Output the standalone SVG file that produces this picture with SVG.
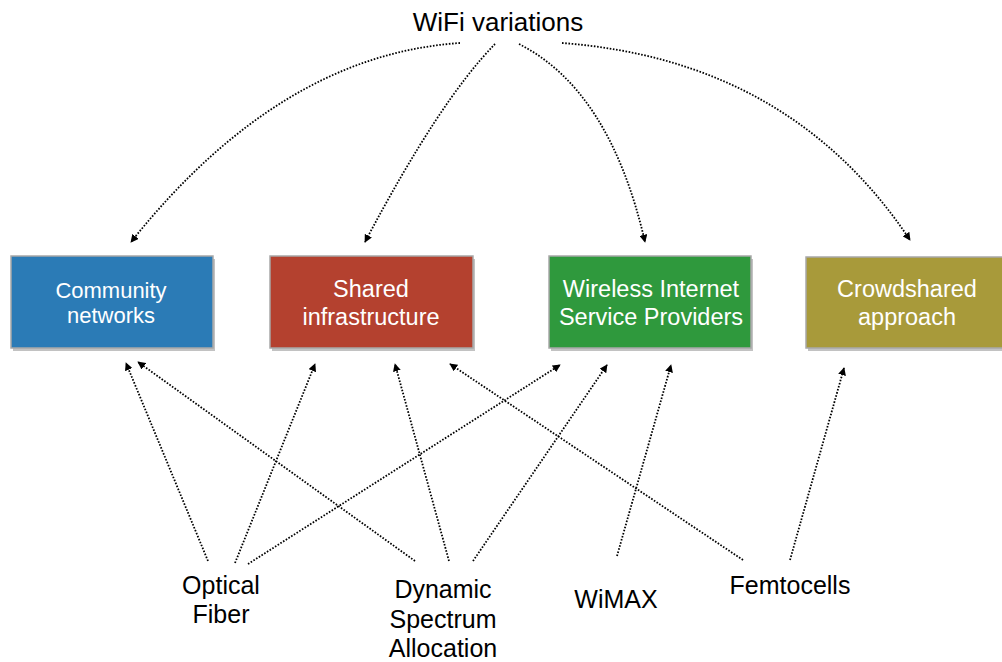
<svg xmlns="http://www.w3.org/2000/svg" width="1002" height="662" viewBox="0 0 1002 662">
<style>
.box{stroke:#a8a8a8;stroke-width:1.5}
.shadow{fill:#8f8f8f;opacity:0.55}
.bt{font-family:"Liberation Sans",Arial,sans-serif;fill:#ffffff;text-anchor:middle}
.lt{font-family:"Liberation Sans",Arial,sans-serif;fill:#000000;text-anchor:middle;font-size:25px}
.c{fill:none;stroke:#000;stroke-width:1.8;stroke-dasharray:1.6 1.6}
</style>
<defs>
<marker id="ah" viewBox="0 0 10 10" refX="9" refY="5" markerWidth="8" markerHeight="8" markerUnits="userSpaceOnUse" orient="auto">
<path d="M0,0 L10,5 L0,10 z" fill="#000"/>
</marker>
</defs>
<rect width="1002" height="662" fill="#ffffff"/>
<g id="wifi">
<text class="lt" x="498" y="31" style="font-size:26px">WiFi variations</text>
</g>
<g id="community">
<rect class="shadow" x="13" y="259" width="202" height="92"/>
<rect class="box" x="11" y="256" width="202" height="92" fill="#2b7bb6"/>
<text class="bt" x="111" y="298" font-size="22">Community</text>
<text class="bt" x="111" y="323" font-size="22">networks</text>
</g>
<g id="shared">
<rect class="shadow" x="272" y="259" width="203" height="92"/>
<rect class="box" x="270" y="256" width="203" height="92" fill="#b4412f"/>
<text class="bt" x="371" y="297" font-size="23.5">Shared</text>
<text class="bt" x="371" y="325" font-size="23.5">infrastructure</text>
</g>
<g id="wisp">
<rect class="shadow" x="551" y="259" width="202" height="92"/>
<rect class="box" x="549" y="256" width="202" height="92" fill="#2f993d"/>
<text class="bt" x="651" y="297" font-size="23.5">Wireless Internet</text>
<text class="bt" x="651" y="325" font-size="23.5">Service Providers</text>
</g>
<g id="crowd">
<rect class="shadow" x="808" y="260" width="204" height="91"/>
<rect class="box" x="806" y="257" width="204" height="91" fill="#a89a3a"/>
<text class="bt" x="907" y="297" font-size="23.5">Crowdshared</text>
<text class="bt" x="907" y="325" font-size="23.5">approach</text>
</g>
<g id="optical">
<text class="lt" x="221" y="594">Optical</text>
<text class="lt" x="221" y="623">Fiber</text>
</g>
<g id="dsa">
<text class="lt" x="443" y="598">Dynamic</text>
<text class="lt" x="443" y="628">Spectrum</text>
<text class="lt" x="443" y="657">Allocation</text>
</g>
<g id="wimax">
<text class="lt" x="616" y="608">WiMAX</text>
</g>
<g id="femto">
<text class="lt" x="790" y="594">Femtocells</text>
</g>
<g id="connectors">
<path class="c" marker-end="url(#ah)" d="M460,43 Q280,55 131,242"/>
<path class="c" marker-end="url(#ah)" d="M495,44 Q440,100 365,242"/>
<path class="c" marker-end="url(#ah)" d="M519,44 Q610,90 645,242"/>
<path class="c" marker-end="url(#ah)" d="M562,43 Q790,60 910,240"/>
<path class="c" marker-end="url(#ah)" d="M208,561 L126,363"/>
<path class="c" marker-end="url(#ah)" d="M235,563 L315,364"/>
<path class="c" marker-end="url(#ah)" d="M248,564 L560,365"/>
<path class="c" marker-end="url(#ah)" d="M415,561 L138,362"/>
<path class="c" marker-end="url(#ah)" d="M449,561 L395,364"/>
<path class="c" marker-end="url(#ah)" d="M473,561 L607,365"/>
<path class="c" marker-end="url(#ah)" d="M617,556 L671,365"/>
<path class="c" marker-end="url(#ah)" d="M743,560 L450,364"/>
<path class="c" marker-end="url(#ah)" d="M790,560 L844,368"/>
</g>
</svg>
